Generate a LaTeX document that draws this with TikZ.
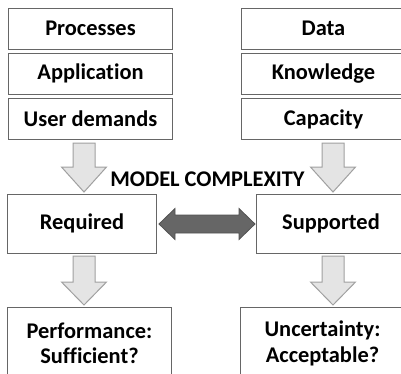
\documentclass[tikz,border=0pt]{standalone}
\usepackage{fontspec}
\setmainfont[Ligatures=NoCommon]{Carlito}
\definecolor{boxgray}{HTML}{666666}
\definecolor{arrline}{HTML}{A0A0A0}
\definecolor{arrfill}{HTML}{E4E4E4}
\definecolor{darkarr}{HTML}{666666}
\newcommand{\blockdown}[4]{% cx, ytop, yhead, ytip
  \draw[arrline, line width=1bp, fill=arrfill, line join=miter]
    (#1-11,#2) -- (#1+11,#2) -- (#1+11,#3) -- (#1+22.5,#3) -- (#1,#4)
    -- (#1-22.5,#3) -- (#1-11,#3) -- cycle;}
\begin{document}
\begin{tikzpicture}[x=1bp,y=-1bp,
  box/.style={draw=boxgray, line width=1bp, fill=white, inner sep=0pt,
    font=\fontsize{22.5}{25.5}\selectfont\bfseries, align=center},
  boxtop/.style={box, minimum width=163bp, minimum height=41bp},
  boxmid/.style={box, minimum width=148bp, minimum height=59bp},
  boxbot/.style={box, minimum width=163bp, minimum height=73bp}]
\useasboundingbox (0,0) rectangle (401,374);
\clip (0,0) rectangle (401,374);
\fill[white] (0,0) rectangle (401,374);
% left column
\node[boxtop] (proc) at (90.5,28.5) {Processes};
\node[boxtop] (appl) at (90.5,73.5) {Application};
\node[boxtop] (user) at (90.5,119) {User demands};
% right column
\node[boxtop] (data) at (323.5,28.5) {Data};
\node[boxtop] (know) at (323.5,73.5) {Knowledge};
\node[boxtop] (capa) at (323.5,119) {Capacity};
% middle
\node[boxmid] (req) at (82,223.5) {Required};
\node[boxmid] (sup) at (331,223.5) {Supported};
% bottom
\node[boxbot] (perf) at (89.5,343.5) {Performance:\\Sufficient?};
\node[boxbot] (unc) at (322.5,343.5) {Uncertainty:\\Acceptable?};
% label
\node[font=\fontsize{22.5}{25.5}\selectfont\bfseries, inner sep=0pt] (mc) at (207.5,179.5) {MODEL COMPLEXITY};
% block arrows
\blockdown{84}{143}{167}{192}
\blockdown{333}{143}{167}{192}
\blockdown{84}{256}{282}{305}
\blockdown{333}{256}{282}{305}
% double arrow
\draw[darkarr!80!black, line width=0.8bp, fill=darkarr, line join=miter]
  (159,224) -- (175,208.5) -- (175,215) -- (239,215) -- (239,208.5) -- (255,224)
  -- (239,239.5) -- (239,233) -- (175,233) -- (175,239.5) -- cycle;
\end{tikzpicture}
\end{document}
